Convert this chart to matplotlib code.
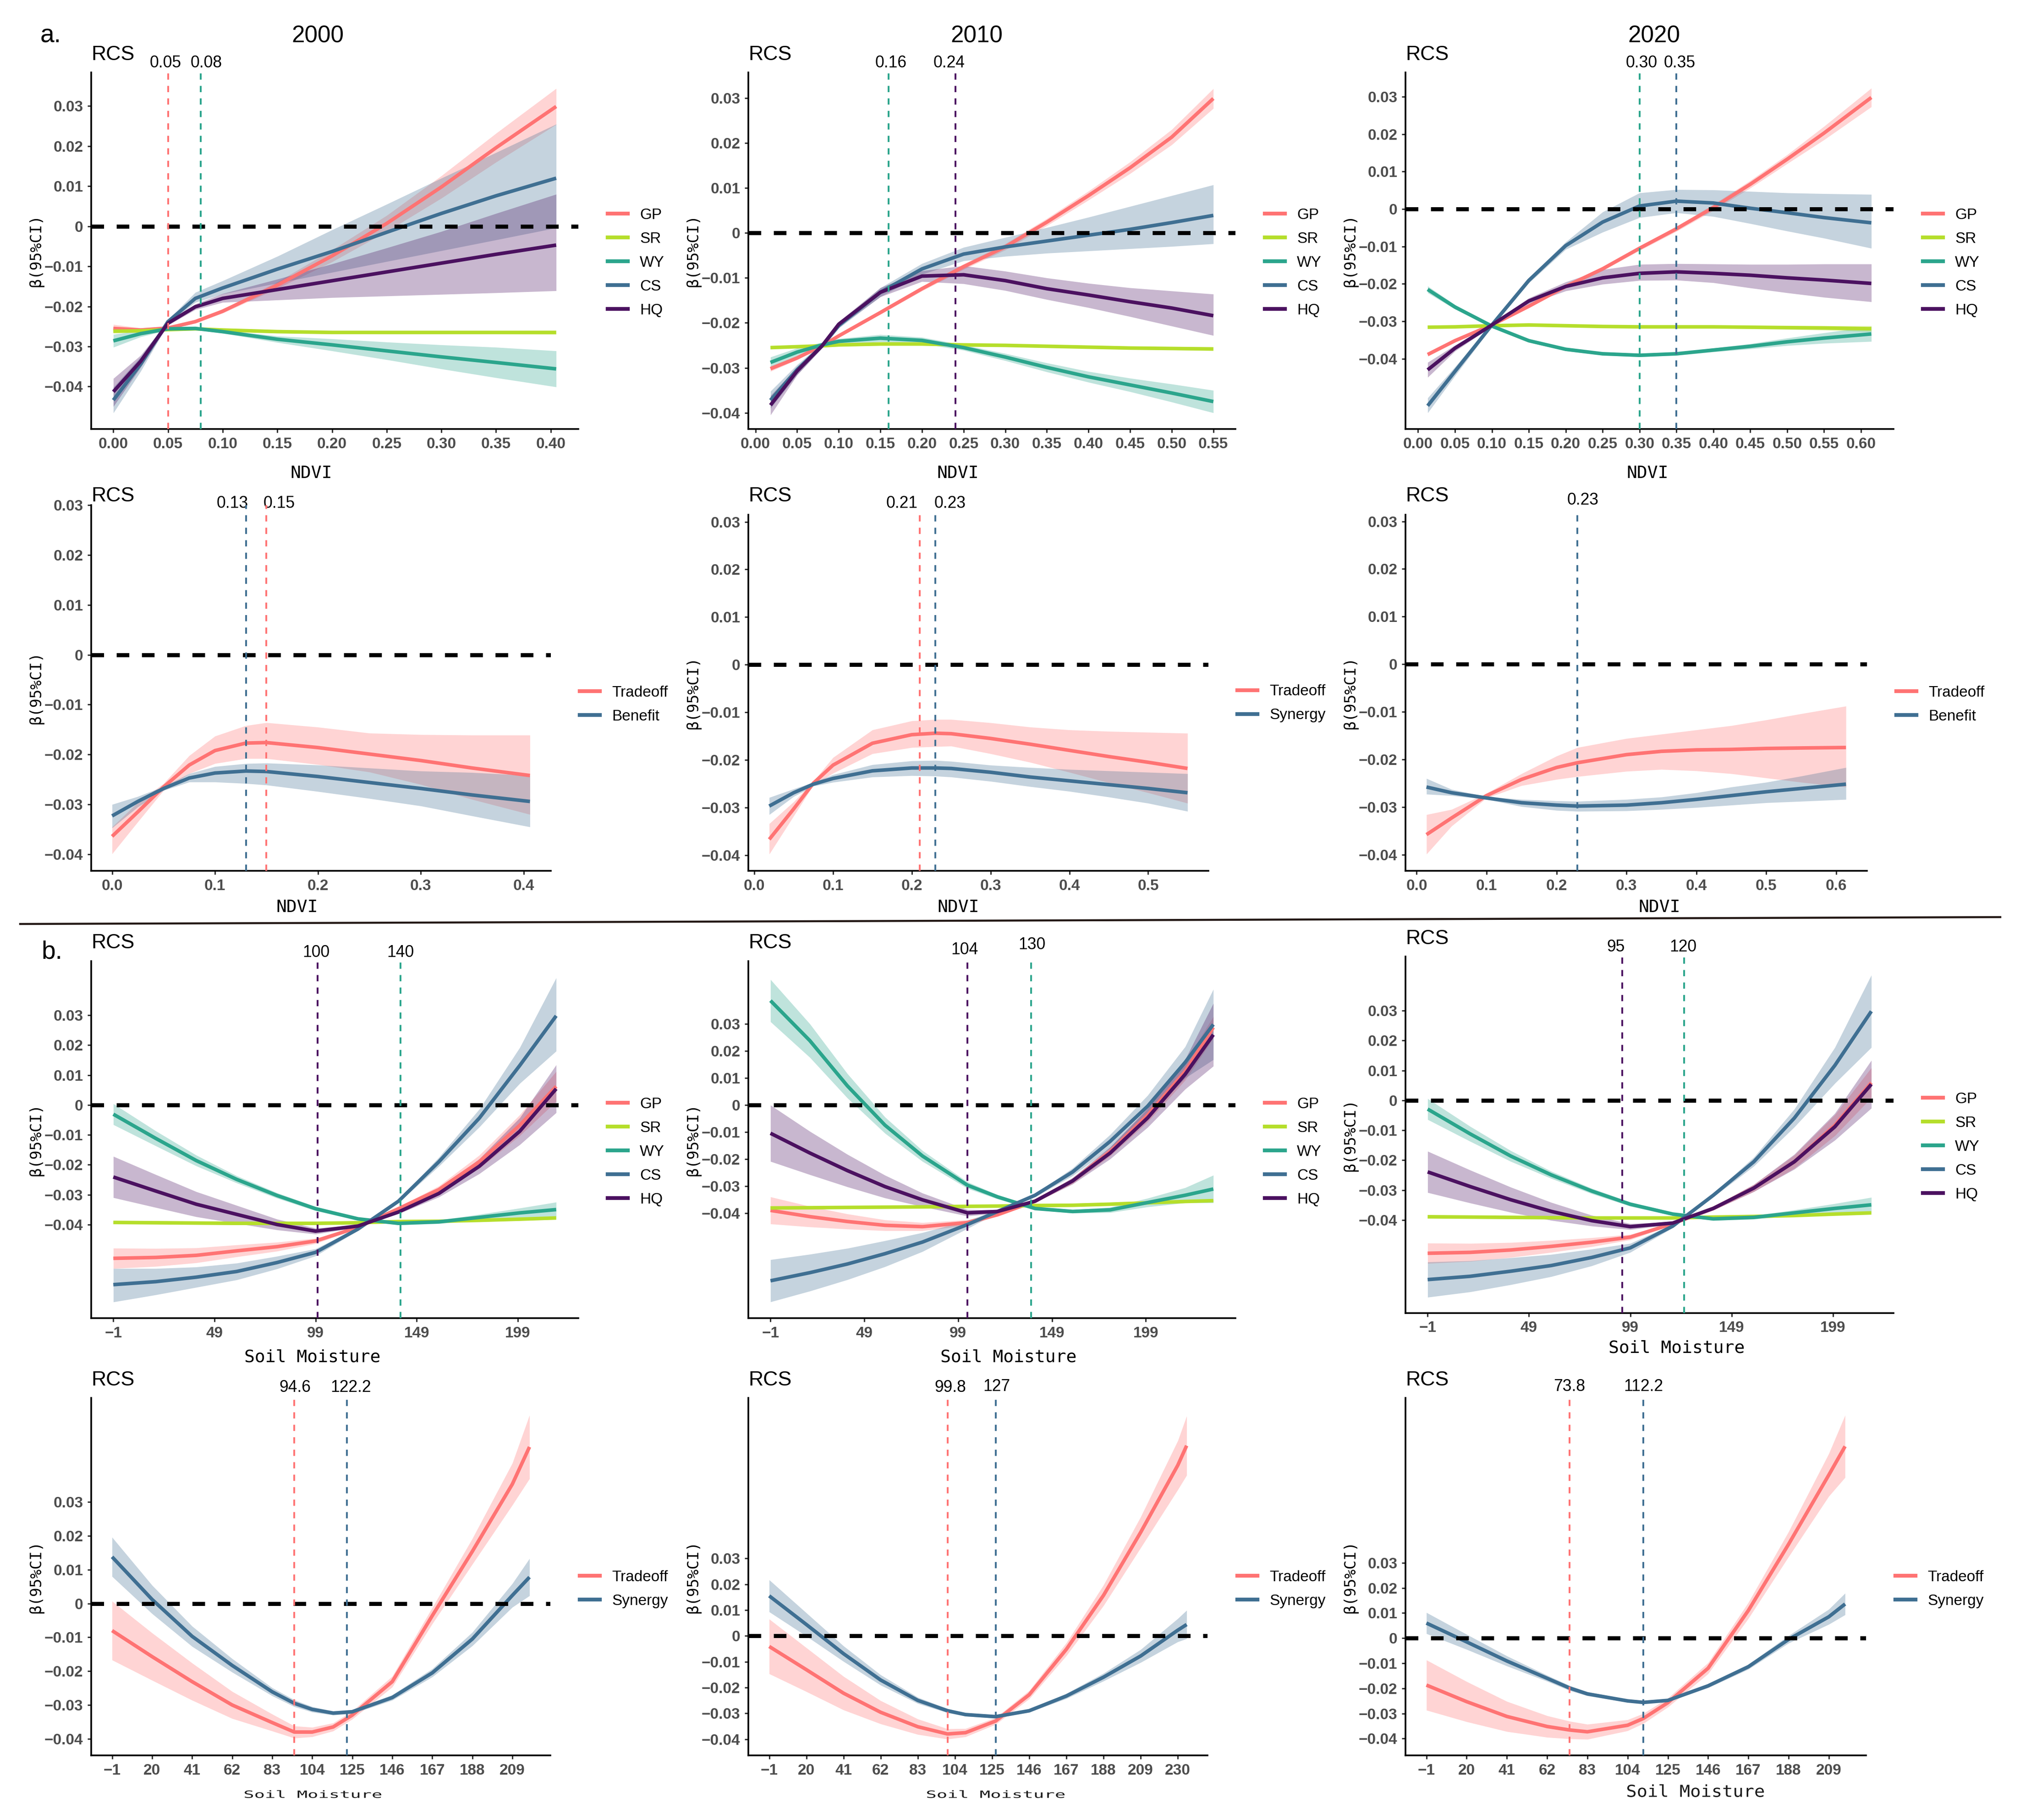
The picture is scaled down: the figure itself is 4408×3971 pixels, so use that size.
import matplotlib
matplotlib.use('Agg')
import matplotlib.pyplot as plt
from matplotlib.lines import Line2D
from matplotlib.font_manager import FontProperties
from matplotlib.textpath import TextPath
from matplotlib.patches import PathPatch
from matplotlib.transforms import Affine2D, blended_transform_factory

# ---------------- data ----------------
# NDVI, 2000
ndvi00_x = [0.0, 0.025, 0.05, 0.075, 0.1, 0.15, 0.2, 0.25, 0.3, 0.35, 0.405]
ndvi00_gp = [-0.0255, -0.0259, -0.0254, -0.0238, -0.0212, -0.0147, -0.0074, 0.0007, 0.0098, 0.0196, 0.0299]
ndvi00_gp_lo = [-0.0265, -0.0264, -0.0257, -0.0242, -0.0217, -0.0155, -0.0089, -0.0013, 0.0070, 0.0160, 0.0254]
ndvi00_gp_hi = [-0.0245, -0.0254, -0.0251, -0.0234, -0.0207, -0.0139, -0.0059, 0.0027, 0.0126, 0.0232, 0.0344]
ndvi00_sr = [-0.0262, -0.0261, -0.0258, -0.0256, -0.0259, -0.0263, -0.0265, -0.0265, -0.0265, -0.0265, -0.0265]
ndvi00_sr_lo = [-0.0267, -0.0264, -0.0260, -0.0258, -0.0261, -0.0266, -0.0268, -0.0269, -0.0269, -0.0269, -0.0270]
ndvi00_sr_hi = [-0.0257, -0.0258, -0.0256, -0.0254, -0.0257, -0.0260, -0.0262, -0.0261, -0.0261, -0.0261, -0.0260]
ndvi00_wy = [-0.0286, -0.0268, -0.0256, -0.0255, -0.0263, -0.0282, -0.0296, -0.0311, -0.0326, -0.0340, -0.0356]
ndvi00_wy_lo = [-0.0302, -0.0276, -0.0259, -0.0258, -0.0267, -0.0290, -0.0311, -0.0333, -0.0356, -0.0378, -0.0401]
ndvi00_wy_hi = [-0.0270, -0.0260, -0.0253, -0.0252, -0.0259, -0.0274, -0.0281, -0.0289, -0.0296, -0.0302, -0.0311]
ndvi00_cs = [-0.0434, -0.0344, -0.0238, -0.0180, -0.0154, -0.0107, -0.0063, -0.0015, 0.0032, 0.0076, 0.0120]
ndvi00_cs_lo = [-0.0466, -0.0362, -0.0243, -0.0190, -0.0169, -0.0142, -0.0115, -0.0088, -0.0061, -0.0034, -0.0004]
ndvi00_cs_hi = [-0.0402, -0.0326, -0.0233, -0.0165, -0.0136, -0.0075, -0.0009, 0.0055, 0.0120, 0.0184, 0.0255]
ndvi00_hq = [-0.0413, -0.0337, -0.0242, -0.0201, -0.0180, -0.0158, -0.0136, -0.0114, -0.0092, -0.0070, -0.0047]
ndvi00_hq_lo = [-0.0450, -0.0352, -0.0247, -0.0208, -0.0190, -0.0184, -0.0178, -0.0174, -0.0170, -0.0166, -0.0161]
ndvi00_hq_hi = [-0.0380, -0.0322, -0.0237, -0.0194, -0.0168, -0.0132, -0.0094, -0.0054, -0.0013, 0.0032, 0.0080]

# NDVI, 2010
ndvi10_x = [0.018, 0.05, 0.08, 0.1, 0.15, 0.2, 0.25, 0.3, 0.35, 0.4, 0.45, 0.5, 0.55]
ndvi10_gp = [-0.0302, -0.0278, -0.0251, -0.0229, -0.0177, -0.0124, -0.0075, -0.0031, 0.0024, 0.0083, 0.0145, 0.0213, 0.0299]
ndvi10_gp_lo = [-0.0308, -0.0282, -0.0253, -0.0232, -0.0181, -0.0129, -0.0081, -0.0038, 0.0016, 0.0073, 0.0132, 0.0196, 0.0277]
ndvi10_gp_hi = [-0.0296, -0.0274, -0.0249, -0.0226, -0.0173, -0.0119, -0.0069, -0.0024, 0.0032, 0.0093, 0.0158, 0.0230, 0.0321]
ndvi10_sr = [-0.0255, -0.0253, -0.0251, -0.0249, -0.0247, -0.0247, -0.0249, -0.0250, -0.0252, -0.0254, -0.0256, -0.0257, -0.0258]
ndvi10_sr_lo = [-0.0258, -0.0256, -0.0254, -0.0252, -0.0250, -0.0250, -0.0252, -0.0253, -0.0255, -0.0257, -0.0259, -0.0260, -0.0262]
ndvi10_sr_hi = [-0.0252, -0.0250, -0.0248, -0.0246, -0.0244, -0.0244, -0.0246, -0.0247, -0.0249, -0.0251, -0.0253, -0.0254, -0.0254]
ndvi10_wy = [-0.0288, -0.0265, -0.0249, -0.0241, -0.0234, -0.0239, -0.0255, -0.0276, -0.0299, -0.0320, -0.0338, -0.0356, -0.0375]
ndvi10_wy_lo = [-0.0300, -0.0274, -0.0255, -0.0247, -0.0242, -0.0246, -0.0261, -0.0284, -0.0309, -0.0332, -0.0353, -0.0376, -0.0400]
ndvi10_wy_hi = [-0.0276, -0.0256, -0.0243, -0.0235, -0.0226, -0.0232, -0.0249, -0.0268, -0.0289, -0.0308, -0.0323, -0.0336, -0.0350]
ndvi10_cs = [-0.0372, -0.0304, -0.0251, -0.0206, -0.0132, -0.0080, -0.0047, -0.0031, -0.0018, -0.0005, 0.0008, 0.0023, 0.0039]
ndvi10_cs_lo = [-0.0390, -0.0315, -0.0256, -0.0212, -0.0142, -0.0092, -0.0062, -0.0052, -0.0045, -0.0040, -0.0035, -0.0030, -0.0024]
ndvi10_cs_hi = [-0.0352, -0.0293, -0.0246, -0.0200, -0.0122, -0.0068, -0.0032, -0.0010, 0.0012, 0.0035, 0.0059, 0.0083, 0.0107]
ndvi10_hq = [-0.0383, -0.0307, -0.0251, -0.0203, -0.0132, -0.0096, -0.0093, -0.0106, -0.0124, -0.0138, -0.0153, -0.0167, -0.0184]
ndvi10_hq_lo = [-0.0405, -0.0316, -0.0256, -0.0209, -0.0142, -0.0108, -0.0113, -0.0128, -0.0148, -0.0166, -0.0186, -0.0207, -0.0228]
ndvi10_hq_hi = [-0.0362, -0.0298, -0.0246, -0.0197, -0.0122, -0.0084, -0.0073, -0.0085, -0.0100, -0.0112, -0.0122, -0.0129, -0.0136]

# NDVI, 2020
ndvi20_x = [0.013, 0.05, 0.1, 0.15, 0.2, 0.25, 0.3, 0.35, 0.4, 0.45, 0.5, 0.55, 0.614]
ndvi20_gp = [-0.0389, -0.0352, -0.0310, -0.0260, -0.0207, -0.0160, -0.0105, -0.0053, 0.0004, 0.0066, 0.0133, 0.0203, 0.0298]
ndvi20_gp_lo = [-0.0394, -0.0356, -0.0313, -0.0264, -0.0211, -0.0165, -0.0111, -0.0060, -0.0004, 0.0056, 0.0121, 0.0185, 0.0273]
ndvi20_gp_hi = [-0.0384, -0.0348, -0.0307, -0.0256, -0.0203, -0.0155, -0.0099, -0.0046, 0.0012, 0.0076, 0.0145, 0.0221, 0.0323]
ndvi20_sr = [-0.0316, -0.0315, -0.0312, -0.0310, -0.0312, -0.0314, -0.0315, -0.0315, -0.0315, -0.0316, -0.0317, -0.0318, -0.0320]
ndvi20_sr_lo = [-0.0319, -0.0318, -0.0315, -0.0313, -0.0315, -0.0317, -0.0318, -0.0318, -0.0318, -0.0320, -0.0322, -0.0324, -0.0328]
ndvi20_sr_hi = [-0.0313, -0.0312, -0.0309, -0.0307, -0.0309, -0.0311, -0.0312, -0.0312, -0.0312, -0.0312, -0.0312, -0.0312, -0.0312]
ndvi20_wy = [-0.0215, -0.0262, -0.0313, -0.0352, -0.0375, -0.0387, -0.0391, -0.0387, -0.0377, -0.0367, -0.0355, -0.0345, -0.0334]
ndvi20_wy_lo = [-0.0224, -0.0268, -0.0316, -0.0356, -0.0379, -0.0391, -0.0395, -0.0391, -0.0382, -0.0374, -0.0365, -0.0359, -0.0354]
ndvi20_wy_hi = [-0.0206, -0.0256, -0.0310, -0.0348, -0.0371, -0.0383, -0.0387, -0.0383, -0.0372, -0.0360, -0.0345, -0.0331, -0.0314]
ndvi20_cs = [-0.0526, -0.0434, -0.0310, -0.0191, -0.0098, -0.0035, 0.0008, 0.0021, 0.0016, 0.0002, -0.0010, -0.0023, -0.0037]
ndvi20_cs_lo = [-0.0545, -0.0446, -0.0315, -0.0198, -0.0108, -0.0062, -0.0023, -0.0010, -0.0020, -0.0039, -0.0059, -0.0078, -0.0105]
ndvi20_cs_hi = [-0.0505, -0.0422, -0.0305, -0.0184, -0.0088, -0.0008, 0.0043, 0.0052, 0.0051, 0.0047, 0.0043, 0.0041, 0.0039]
ndvi20_hq = [-0.0430, -0.0372, -0.0310, -0.0246, -0.0207, -0.0184, -0.0172, -0.0168, -0.0172, -0.0177, -0.0184, -0.0190, -0.0199]
ndvi20_hq_lo = [-0.0450, -0.0380, -0.0314, -0.0254, -0.0219, -0.0201, -0.0191, -0.0190, -0.0197, -0.0211, -0.0224, -0.0236, -0.0248]
ndvi20_hq_hi = [-0.0410, -0.0364, -0.0306, -0.0238, -0.0195, -0.0162, -0.0148, -0.0146, -0.0147, -0.0148, -0.0148, -0.0147, -0.0147]

# tradeoff / benefit vs NDVI
tb00_x = [0.0, 0.025, 0.05, 0.075, 0.1, 0.13, 0.15, 0.2, 0.25, 0.3, 0.35, 0.406]
tb00_trade = [-0.0364, -0.0315, -0.0265, -0.0221, -0.0192, -0.0177, -0.0176, -0.0186, -0.0199, -0.0212, -0.0227, -0.0242]
tb00_trade_lo = [-0.0399, -0.0335, -0.0272, -0.0238, -0.0218, -0.0208, -0.0208, -0.0220, -0.0235, -0.0260, -0.0290, -0.0320]
tb00_trade_hi = [-0.0345, -0.0296, -0.0258, -0.0202, -0.0163, -0.0142, -0.0136, -0.0145, -0.0157, -0.0160, -0.0161, -0.0161]
tb00_ben = [-0.0323, -0.0294, -0.0268, -0.0247, -0.0237, -0.0233, -0.0234, -0.0244, -0.0256, -0.0268, -0.0281, -0.0294]
tb00_ben_lo = [-0.0347, -0.0305, -0.0272, -0.0255, -0.0255, -0.0258, -0.0261, -0.0274, -0.0288, -0.0303, -0.0323, -0.0345]
tb00_ben_hi = [-0.0300, -0.0284, -0.0264, -0.0238, -0.0224, -0.0218, -0.0217, -0.0221, -0.0227, -0.0233, -0.0236, -0.0242]

tb10_x = [0.019, 0.05, 0.075, 0.1, 0.15, 0.2, 0.23, 0.25, 0.3, 0.35, 0.4, 0.45, 0.5, 0.55]
tb10_trade = [-0.0367, -0.0303, -0.0249, -0.0211, -0.0165, -0.0147, -0.0144, -0.0145, -0.0155, -0.0167, -0.0180, -0.0193, -0.0205, -0.0218]
tb10_trade_lo = [-0.0398, -0.0318, -0.0253, -0.0228, -0.0187, -0.0174, -0.0172, -0.0171, -0.0187, -0.0205, -0.0226, -0.0248, -0.0269, -0.0291]
tb10_trade_hi = [-0.0334, -0.0288, -0.0245, -0.0195, -0.0137, -0.0118, -0.0115, -0.0115, -0.0122, -0.0131, -0.0137, -0.0140, -0.0142, -0.0144]
tb10_syn = [-0.0297, -0.0269, -0.0251, -0.0239, -0.0223, -0.0217, -0.0217, -0.0218, -0.0226, -0.0236, -0.0244, -0.0252, -0.0260, -0.0269]
tb10_syn_lo = [-0.0315, -0.0277, -0.0255, -0.0247, -0.0236, -0.0233, -0.0234, -0.0236, -0.0245, -0.0256, -0.0266, -0.0278, -0.0291, -0.0308]
tb10_syn_hi = [-0.0279, -0.0261, -0.0247, -0.0231, -0.0210, -0.0202, -0.0201, -0.0203, -0.0211, -0.0216, -0.0220, -0.0223, -0.0226, -0.0229]

tb20_x = [0.014, 0.05, 0.1, 0.15, 0.2, 0.23, 0.3, 0.35, 0.4, 0.45, 0.5, 0.55, 0.614]
tb20_trade = [-0.0358, -0.0323, -0.0276, -0.0242, -0.0217, -0.0207, -0.0190, -0.0183, -0.0180, -0.0179, -0.0177, -0.0176, -0.0175]
tb20_trade_lo = [-0.0399, -0.0340, -0.0281, -0.0255, -0.0242, -0.0236, -0.0225, -0.0221, -0.0224, -0.0230, -0.0239, -0.0248, -0.0258]
tb20_trade_hi = [-0.0316, -0.0305, -0.0271, -0.0230, -0.0193, -0.0175, -0.0156, -0.0147, -0.0138, -0.0129, -0.0117, -0.0104, -0.0088]
tb20_ben = [-0.0258, -0.0270, -0.0281, -0.0291, -0.0296, -0.0298, -0.0296, -0.0291, -0.0284, -0.0276, -0.0268, -0.0261, -0.0252]
tb20_ben_lo = [-0.0273, -0.0276, -0.0284, -0.0299, -0.0307, -0.0309, -0.0308, -0.0305, -0.0301, -0.0296, -0.0291, -0.0288, -0.0284]
tb20_ben_hi = [-0.0240, -0.0263, -0.0278, -0.0284, -0.0287, -0.0288, -0.0284, -0.0279, -0.0270, -0.0258, -0.0248, -0.0235, -0.0217]

# soil moisture, 2000
sm00_x = [-1, 20, 40, 60, 80, 99, 120, 140, 160, 180, 200, 218]
sm00_gp = [-0.0513, -0.0510, -0.0503, -0.0488, -0.0474, -0.0455, -0.0409, -0.0347, -0.0283, -0.0190, -0.0068, 0.0062]
sm00_gp_lo = [-0.0547, -0.0540, -0.0528, -0.0508, -0.0489, -0.0464, -0.0413, -0.0353, -0.0295, -0.0212, -0.0103, 0.0012]
sm00_gp_hi = [-0.0479, -0.0480, -0.0478, -0.0468, -0.0459, -0.0446, -0.0405, -0.0341, -0.0271, -0.0168, -0.0033, 0.0112]
sm00_sr = [-0.0393, -0.0394, -0.0395, -0.0396, -0.0396, -0.0396, -0.0394, -0.0390, -0.0389, -0.0386, -0.0382, -0.0378]
sm00_sr_lo = [-0.0397, -0.0398, -0.0399, -0.0400, -0.0400, -0.0400, -0.0398, -0.0394, -0.0393, -0.0390, -0.0386, -0.0382]
sm00_sr_hi = [-0.0389, -0.0390, -0.0391, -0.0392, -0.0392, -0.0392, -0.0390, -0.0386, -0.0385, -0.0382, -0.0378, -0.0374]
sm00_wy = [-0.0031, -0.0112, -0.0186, -0.0249, -0.0303, -0.0347, -0.0381, -0.0396, -0.0391, -0.0376, -0.0361, -0.0350]
sm00_wy_lo = [-0.0066, -0.0137, -0.0204, -0.0261, -0.0312, -0.0354, -0.0386, -0.0401, -0.0397, -0.0386, -0.0377, -0.0375]
sm00_wy_hi = [0.0004, -0.0087, -0.0168, -0.0237, -0.0294, -0.0340, -0.0376, -0.0391, -0.0385, -0.0366, -0.0345, -0.0325]
sm00_cs = [-0.0601, -0.0591, -0.0576, -0.0557, -0.0527, -0.0493, -0.0415, -0.0322, -0.0190, -0.0044, 0.0132, 0.0298]
sm00_cs_lo = [-0.0659, -0.0635, -0.0610, -0.0585, -0.0548, -0.0505, -0.0420, -0.0327, -0.0205, -0.0074, 0.0072, 0.0180]
sm00_cs_hi = [-0.0547, -0.0547, -0.0542, -0.0529, -0.0506, -0.0481, -0.0410, -0.0317, -0.0175, -0.0014, 0.0192, 0.0425]
sm00_hq = [-0.0241, -0.0288, -0.0332, -0.0366, -0.0400, -0.0422, -0.0405, -0.0358, -0.0296, -0.0205, -0.0088, 0.0054]
sm00_hq_lo = [-0.0310, -0.0343, -0.0374, -0.0396, -0.0418, -0.0432, -0.0409, -0.0364, -0.0308, -0.0230, -0.0133, -0.0026]
sm00_hq_hi = [-0.0172, -0.0233, -0.0290, -0.0336, -0.0382, -0.0412, -0.0401, -0.0352, -0.0284, -0.0180, -0.0043, 0.0134]

# soil moisture, 2010
sm10_x = [-1, 20, 40, 60, 80, 104, 120, 140, 160, 180, 200, 220, 235]
sm10_gp = [-0.0389, -0.0412, -0.0430, -0.0444, -0.0449, -0.0434, -0.0405, -0.0355, -0.0280, -0.0172, -0.0037, 0.0125, 0.0287]
sm10_gp_lo = [-0.0439, -0.0450, -0.0458, -0.0464, -0.0464, -0.0444, -0.0411, -0.0360, -0.0290, -0.0188, -0.0062, 0.0092, 0.0247]
sm10_gp_hi = [-0.0339, -0.0374, -0.0402, -0.0424, -0.0434, -0.0424, -0.0399, -0.0350, -0.0270, -0.0156, -0.0012, 0.0158, 0.0327]
sm10_sr = [-0.0380, -0.0379, -0.0378, -0.0377, -0.0376, -0.0374, -0.0373, -0.0371, -0.0370, -0.0366, -0.0361, -0.0356, -0.0353]
sm10_sr_lo = [-0.0384, -0.0383, -0.0382, -0.0381, -0.0380, -0.0378, -0.0377, -0.0375, -0.0374, -0.0370, -0.0365, -0.0360, -0.0357]
sm10_sr_hi = [-0.0376, -0.0375, -0.0374, -0.0373, -0.0372, -0.0370, -0.0369, -0.0367, -0.0366, -0.0362, -0.0357, -0.0352, -0.0349]
sm10_wy = [0.0386, 0.0238, 0.0071, -0.0074, -0.0188, -0.0296, -0.0339, -0.0382, -0.0393, -0.0387, -0.0360, -0.0333, -0.0310]
sm10_wy_lo = [0.0308, 0.0176, 0.0026, -0.0104, -0.0208, -0.0308, -0.0347, -0.0387, -0.0399, -0.0397, -0.0376, -0.0361, -0.0361]
sm10_wy_hi = [0.0464, 0.0300, 0.0116, -0.0044, -0.0168, -0.0284, -0.0331, -0.0377, -0.0387, -0.0377, -0.0344, -0.0305, -0.0259]
sm10_cs = [-0.0649, -0.0619, -0.0587, -0.0549, -0.0506, -0.0441, -0.0393, -0.0333, -0.0247, -0.0134, -0.0004, 0.0158, 0.0298]
sm10_cs_lo = [-0.0727, -0.0687, -0.0645, -0.0597, -0.0541, -0.0456, -0.0398, -0.0339, -0.0261, -0.0159, -0.0044, 0.0100, 0.0168]
sm10_cs_hi = [-0.0571, -0.0551, -0.0529, -0.0501, -0.0471, -0.0426, -0.0388, -0.0327, -0.0233, -0.0109, 0.0036, 0.0216, 0.0428]
sm10_hq = [-0.0104, -0.0177, -0.0242, -0.0301, -0.0350, -0.0398, -0.0393, -0.0355, -0.0280, -0.0177, -0.0047, 0.0114, 0.0260]
sm10_hq_lo = [-0.0208, -0.0257, -0.0302, -0.0343, -0.0375, -0.0410, -0.0399, -0.0360, -0.0292, -0.0199, -0.0082, 0.0059, 0.0144]
sm10_hq_hi = [0.0000, -0.0097, -0.0182, -0.0259, -0.0325, -0.0386, -0.0387, -0.0350, -0.0268, -0.0155, -0.0012, 0.0169, 0.0376]

# soil moisture, 2020
sm20_x = [-1, 20, 40, 60, 80, 99, 120, 140, 160, 180, 200, 218]
sm20_gp = [-0.0511, -0.0508, -0.0500, -0.0488, -0.0474, -0.0457, -0.0412, -0.0361, -0.0293, -0.0205, -0.0083, 0.0059]
sm20_gp_lo = [-0.0545, -0.0538, -0.0525, -0.0508, -0.0489, -0.0466, -0.0416, -0.0367, -0.0305, -0.0227, -0.0118, 0.0009]
sm20_gp_hi = [-0.0477, -0.0478, -0.0475, -0.0468, -0.0459, -0.0448, -0.0408, -0.0355, -0.0281, -0.0183, -0.0048, 0.0109]
sm20_sr = [-0.0389, -0.0390, -0.0391, -0.0392, -0.0393, -0.0393, -0.0393, -0.0390, -0.0388, -0.0385, -0.0380, -0.0376]
sm20_sr_lo = [-0.0393, -0.0394, -0.0395, -0.0396, -0.0397, -0.0397, -0.0397, -0.0394, -0.0392, -0.0389, -0.0384, -0.0380]
sm20_sr_hi = [-0.0385, -0.0386, -0.0387, -0.0388, -0.0389, -0.0389, -0.0389, -0.0386, -0.0384, -0.0381, -0.0376, -0.0372]
sm20_wy = [-0.0029, -0.0112, -0.0186, -0.0249, -0.0303, -0.0347, -0.0380, -0.0396, -0.0391, -0.0376, -0.0361, -0.0349]
sm20_wy_lo = [-0.0064, -0.0137, -0.0204, -0.0261, -0.0312, -0.0354, -0.0385, -0.0401, -0.0397, -0.0386, -0.0377, -0.0374]
sm20_wy_hi = [0.0006, -0.0087, -0.0168, -0.0237, -0.0294, -0.0340, -0.0375, -0.0391, -0.0385, -0.0366, -0.0345, -0.0324]
sm20_cs = [-0.0599, -0.0588, -0.0571, -0.0552, -0.0525, -0.0493, -0.0420, -0.0317, -0.0205, -0.0059, 0.0117, 0.0298]
sm20_cs_lo = [-0.0658, -0.0640, -0.0616, -0.0589, -0.0553, -0.0508, -0.0426, -0.0323, -0.0220, -0.0089, 0.0057, 0.0177]
sm20_cs_hi = [-0.0540, -0.0536, -0.0526, -0.0515, -0.0497, -0.0478, -0.0414, -0.0311, -0.0190, -0.0029, 0.0177, 0.0419]
sm20_hq = [-0.0239, -0.0288, -0.0332, -0.0371, -0.0402, -0.0422, -0.0410, -0.0361, -0.0293, -0.0205, -0.0088, 0.0054]
sm20_hq_lo = [-0.0308, -0.0343, -0.0374, -0.0401, -0.0420, -0.0432, -0.0414, -0.0367, -0.0305, -0.0230, -0.0133, -0.0026]
sm20_hq_hi = [-0.0170, -0.0233, -0.0290, -0.0341, -0.0384, -0.0412, -0.0406, -0.0355, -0.0281, -0.0180, -0.0043, 0.0134]

# tradeoff / synergy vs soil moisture
ts00_x = [-1, 20, 41, 62, 83, 94.6, 104, 115, 125, 146, 167, 188, 209, 218]
ts00_trade = [-0.0080, -0.0157, -0.0231, -0.0300, -0.0352, -0.0380, -0.0380, -0.0365, -0.0330, -0.0231, -0.0036, 0.0154, 0.0353, 0.0463]
ts00_trade_lo = [-0.0167, -0.0227, -0.0286, -0.0340, -0.0377, -0.0398, -0.0394, -0.0377, -0.0342, -0.0247, -0.0060, 0.0116, 0.0291, 0.0369]
ts00_trade_hi = [0.0007, -0.0087, -0.0176, -0.0260, -0.0327, -0.0362, -0.0366, -0.0353, -0.0318, -0.0215, -0.0012, 0.0192, 0.0415, 0.0557]
ts00_syn = [0.0138, 0.0012, -0.0097, -0.0183, -0.0261, -0.0295, -0.0313, -0.0324, -0.0320, -0.0278, -0.0205, -0.0105, 0.0024, 0.0078]
ts00_syn_lo = [0.0080, -0.0030, -0.0127, -0.0203, -0.0273, -0.0305, -0.0321, -0.0330, -0.0326, -0.0286, -0.0217, -0.0125, -0.0011, 0.0023]
ts00_syn_hi = [0.0196, 0.0054, -0.0067, -0.0163, -0.0249, -0.0285, -0.0305, -0.0318, -0.0314, -0.0270, -0.0193, -0.0085, 0.0059, 0.0133]

ts10_x = [-1, 20, 41, 62, 83, 99.8, 110, 127, 146, 167, 188, 209, 230, 235]
ts10_trade = [-0.0041, -0.0131, -0.0222, -0.0296, -0.0352, -0.0380, -0.0375, -0.0330, -0.0228, -0.0052, 0.0157, 0.0401, 0.0661, 0.0737]
ts10_trade_lo = [-0.0147, -0.0216, -0.0287, -0.0341, -0.0382, -0.0400, -0.0391, -0.0343, -0.0244, -0.0077, 0.0117, 0.0341, 0.0566, 0.0622]
ts10_trade_hi = [0.0065, -0.0046, -0.0157, -0.0251, -0.0322, -0.0360, -0.0359, -0.0317, -0.0212, -0.0027, 0.0197, 0.0461, 0.0756, 0.0852]
ts10_syn = [0.0155, 0.0044, -0.0069, -0.0171, -0.0250, -0.0290, -0.0305, -0.0313, -0.0290, -0.0233, -0.0160, -0.0078, 0.0022, 0.0044]
ts10_syn_lo = [0.0093, -0.0001, -0.0099, -0.0191, -0.0262, -0.0298, -0.0311, -0.0319, -0.0296, -0.0243, -0.0175, -0.0103, -0.0023, -0.0011]
ts10_syn_hi = [0.0217, 0.0089, -0.0039, -0.0151, -0.0238, -0.0282, -0.0299, -0.0307, -0.0284, -0.0223, -0.0145, -0.0053, 0.0067, 0.0099]

ts20_x = [-1, 20, 41, 62, 73.8, 83, 104, 112.2, 125, 146, 167, 188, 209, 217.5]
ts20_trade = [-0.0187, -0.0253, -0.0312, -0.0352, -0.0366, -0.0373, -0.0347, -0.0320, -0.0257, -0.0120, 0.0110, 0.0374, 0.0650, 0.0764]
ts20_trade_lo = [-0.0287, -0.0333, -0.0372, -0.0395, -0.0401, -0.0403, -0.0369, -0.0340, -0.0275, -0.0142, 0.0078, 0.0324, 0.0565, 0.0640]
ts20_trade_hi = [-0.0087, -0.0173, -0.0252, -0.0309, -0.0331, -0.0343, -0.0325, -0.0300, -0.0239, -0.0098, 0.0142, 0.0424, 0.0735, 0.0888]
ts20_syn = [0.0060, -0.0015, -0.0091, -0.0160, -0.0199, -0.0222, -0.0250, -0.0256, -0.0248, -0.0190, -0.0114, -0.0005, 0.0085, 0.0136]
ts20_syn_lo = [0.0018, -0.0045, -0.0111, -0.0172, -0.0209, -0.0230, -0.0255, -0.0261, -0.0253, -0.0198, -0.0124, -0.0020, 0.0055, 0.0093]
ts20_syn_hi = [0.0102, 0.0015, -0.0071, -0.0148, -0.0189, -0.0214, -0.0245, -0.0251, -0.0243, -0.0182, -0.0104, 0.0010, 0.0115, 0.0179]

# threshold lines: (position, label, colour key)
thr_ndvi00 = [(0.05, "0.05", "GP"), (0.08, "0.08", "WY")]
thr_ndvi10 = [(0.16, "0.16", "WY"), (0.24, "0.24", "HQ")]
thr_ndvi20 = [(0.30, "0.30", "WY"), (0.35, "0.35", "CS")]
thr_tb00 = [(0.13, "0.13", "CS"), (0.15, "0.15", "GP")]
thr_tb10 = [(0.21, "0.21", "GP"), (0.23, "0.23", "CS")]
thr_tb20 = [(0.23, "0.23", "CS")]
thr_sm00 = [(100, "100", "HQ"), (141, "140", "WY")]
thr_sm10 = [(104, "104", "HQ"), (138, "130", "WY")]
thr_sm20 = [(95, "95", "HQ"), (125.5, "120", "WY")]
thr_ts00 = [(94.6, "94.6", "GP"), (122.2, "122.2", "CS")]
thr_ts10 = [(99.8, "99.8", "GP"), (127, "127", "CS")]
thr_ts20 = [(73.8, "73.8", "GP"), (112.2, "112.2", "CS")]

years = ["2000", "2010", "2020"]
y_ticks = [-0.04, -0.03, -0.02, -0.01, 0, 0.01, 0.02, 0.03]

COLORS = {"GP": "#FF7373", "SR": "#B5DE2B", "WY": "#2BA58C", "CS": "#3F6F92", "HQ": "#4B1160"}

# ---------------- figure ----------------
W, H, DPI = 4408, 3971, 200
NARROW = ['Liberation Sans Narrow', 'Liberation Sans', 'DejaVu Sans']
PLAIN = ['Liberation Sans', 'DejaVu Sans']
MONO = ['DejaVu Sans Mono']

fig = plt.figure(figsize=(W / DPI, H / DPI), dpi=DPI)
fig.patch.set_facecolor('white')


def fy(py):
    return 1 - py / H


def fmt(v, nd, zero_plain=False):
    if v == 0 and zero_plain:
        return "0"
    s = f"{v:.{nd}f}" if nd else f"{v:g}"
    return s.replace("-", "\u2212")


def squashed(text, box):
    x0, y0, x1, y1 = box
    tp = TextPath((0, 0), text, size=50, prop=FontProperties(family=MONO))
    ext = tp.get_extents()
    tr = (Affine2D().translate(-ext.x0, -ext.y0)
          .scale((x1 - x0) / ext.width, (y1 - y0) / ext.height)
          .translate(x0, H - y1))
    fig.add_artist(PathPatch(tp, transform=tr, facecolor='#1a1a1a', lw=0))


def draw_panel(box, ylim, x, series, thr, xticks, nd, thr_pos, thr_y, rcs_y,
               leg, ylab_x, xlabel=None, xlabel_pos=None, squash=None):
    l, t, r, b = box
    ax = fig.add_axes([l / W, 1 - b / H, (r - l) / W, (b - t) / H])
    pad = 0.05 * (x[-1] - x[0])
    ax.set_xlim(x[0] - pad, x[-1] + pad)
    ax.set_ylim(*ylim)
    names = []
    for name, key, y, lo, hi in series:
        c = COLORS[key]
        ax.fill_between(x, lo, hi, color=c, alpha=0.3, lw=0)
        ax.plot(x, y, color=c, lw=2.8, solid_capstyle='butt')
        names.append((name, c))
    ax.axhline(0, color='black', lw=3.2, dashes=(3.1, 3.1), zorder=6)
    tr = blended_transform_factory(ax.transData, ax.transAxes)
    for i, (v, lab, key) in enumerate(thr):
        ax.axvline(v, color=COLORS[key], lw=1.4, dashes=(3.5, 3.5), zorder=6)
        yy = thr_y[i] if isinstance(thr_y, list) else thr_y
        ax.text(thr_pos[i], yy, lab, transform=tr, ha='center', va='baseline',
                fontsize=12.8, family=PLAIN, clip_on=False)
    ax.text(0, rcs_y, "RCS", transform=ax.transAxes, ha='left', va='baseline',
            fontsize=16.1, family=PLAIN)

    for s in ['top', 'right']:
        ax.spines[s].set_visible(False)
    for s in ['left', 'bottom']:
        ax.spines[s].set_linewidth(1.3)
    ax.set_xticks(xticks)
    ax.set_xticklabels([fmt(v, nd) for v in xticks])
    ax.set_yticks(y_ticks)
    ax.set_yticklabels([fmt(v, 2, zero_plain=True) for v in y_ticks])
    ax.tick_params(length=2.9, width=1.1, color='#333333', pad=3.4,
                   labelcolor='#4D4D4D')
    for lab in ax.get_xticklabels() + ax.get_yticklabels():
        lab.set_fontfamily(NARROW)
        lab.set_fontweight('bold')
        lab.set_fontsize(12)

    handles = [Line2D([], [], color=c, lw=3.0) for _, c in names]
    ax.legend(handles, [n for n, _ in names], loc='center left',
              bbox_to_anchor=(leg[0] / W, fy(leg[1])), bbox_transform=fig.transFigure,
              frameon=False, prop=FontProperties(family=NARROW, size=12),
              handlelength=1.32, handletextpad=0.78, labelspacing=0.63,
              borderpad=0, borderaxespad=0)

    fig.text(ylab_x / W, 1 - (t + b) / 2 / H, "\u03b2(95%CI)", rotation=90,
             ha='center', va='center', family=MONO, fontsize=11.9)
    if xlabel_pos is not None:
        fig.text(xlabel_pos[0] / W, fy(xlabel_pos[1]), xlabel, ha='center',
                 va='baseline', family=MONO, fontsize=13.7)
    if squash is not None:
        squashed(xlabel, squash)
    return ax


def five(prefix):
    g = globals()
    out = []
    for key in ["GP", "SR", "WY", "CS", "HQ"]:
        k = prefix + "_" + key.lower()
        out.append((key, key, g[k], g[k + "_lo"], g[k + "_hi"]))
    return out


def two(prefix, second, skey):
    g = globals()
    return [("Tradeoff", "GP", g[prefix + "_trade"], g[prefix + "_trade_lo"], g[prefix + "_trade_hi"]),
            (second, "CS", g[prefix + "_" + skey], g[prefix + "_" + skey + "_lo"], g[prefix + "_" + skey + "_hi"])]


ndvi_t1 = [round(i * 0.05, 2) for i in range(9)]
ndvi_t2 = [round(i * 0.05, 2) for i in range(12)]
ndvi_t3 = [round(i * 0.05, 2) for i in range(13)]
sm_t = [-1, 49, 99, 149, 199]
ts_t = [-1, 20, 41, 62, 83, 104, 125, 146, 167, 188, 209]
ts_t2 = ts_t + [230]

# row 1: NDVI, five services
draw_panel((199, 158, 1262, 936), (-0.0506, 0.0384), ndvi00_x, five("ndvi00"), thr_ndvi00,
           ndvi_t1, 2, [0.0478, 0.0851], 1.0145, 1.0347, (1326, 573.5), 79, "NDVI", (679, 1043))
draw_panel((1633, 158, 2696, 936), (-0.0436, 0.0357), ndvi10_x, five("ndvi10"), thr_ndvi10,
           ndvi_t2, 2, [0.1629, 0.2325], 1.0145, 1.0347, (2760, 573.5), 1513, "NDVI", (2090, 1043))
draw_panel((3067, 158, 4132, 936), (-0.0588, 0.0365), ndvi20_x, five("ndvi20"), thr_ndvi20,
           ndvi_t3, 2, [0.3029, 0.354], 1.0145, 1.0347, (4196, 573.5), 2947, "NDVI", (3595, 1043))

# row 2: tradeoff / benefit vs NDVI
draw_panel((199, 1102, 1202, 1900), (-0.0433, 0.0299), tb00_x, two("tb00", "Benefit", "ben"), thr_tb00,
           [0, 0.1, 0.2, 0.3, 0.4], 1, [0.1171, 0.1624], 0.9925, 1.010, (1265, 1537.5), 79, "NDVI", (648, 1990))
draw_panel((1633, 1123, 2637, 1900), (-0.0433, 0.0315), tb10_x, two("tb10", "Synergy", "syn"), thr_tb10,
           [0, 0.1, 0.2, 0.3, 0.4, 0.5], 1, [0.1872, 0.2484], 1.0193, 1.0373, (2700, 1535), 1513, "NDVI", (2091, 1990))
draw_panel((3067, 1123, 4074, 1900), (-0.0434, 0.0314), tb20_x, two("tb20", "Benefit", "ben"), thr_tb20,
           [0, 0.1, 0.2, 0.3, 0.4, 0.5, 0.6], 1, [0.2379], 1.0283, 1.0373, (4138, 1537.5), 2947, "NDVI", (3621, 1990))

# row 3: soil moisture, five services
draw_panel((199, 2097, 1262, 2876), (-0.0713, 0.0481), sm00_x, five("sm00"), thr_sm00,
           sm_t, 0, [99.2, 141.1], 1.0116, 1.036, (1326, 2513.5), 79, "Soil Moisture", (682, 2972))
draw_panel((1633, 2097, 2696, 2876), (-0.0787, 0.0532), sm10_x, five("sm10"), thr_sm10,
           sm_t, 0, [102.4, 138.4], [1.0193, 1.034], 1.036, (2760, 2513.5), 1513, "Soil Moisture", (2201, 2972))
draw_panel((3067, 2087, 4132, 2865), (-0.0711, 0.0481), sm20_x, five("sm20"), thr_sm20,
           sm_t, 0, [91.9, 125.1], 1.0141, 1.0347, (4196, 2502.5), 2947, "Soil Moisture", (3659, 2951))

# row 4: tradeoff / synergy vs soil moisture
draw_panel((199, 3050, 1201, 3830), (-0.0449, 0.0608), ts00_x, two("ts00", "Synergy", "syn"), thr_ts00,
           ts_t, 0, [95.0, 124.2], 1.0167, 1.0346, (1265, 3467.5), 79, "Soil Moisture",
           squash=(534, 3906, 832, 3923))
draw_panel((1633, 3050, 2635, 3830), (-0.0463, 0.0922), ts10_x, two("ts10", "Synergy", "syn"), thr_ts10,
           ts_t2, 0, [101.5, 127.5], [1.0167, 1.0192], 1.0346, (2700, 3467.5), 1513, "Soil Moisture",
           squash=(2023, 3906, 2323, 3923))
draw_panel((3067, 3050, 4072, 3830), (-0.0467, 0.0957), ts20_x, two("ts20", "Synergy", "syn"), thr_ts20,
           ts_t, 0, [73.6, 112.2], 1.0192, 1.0346, (4136, 3467.5), 2947, "Soil Moisture",
           squash=(3551, 3893, 3849, 3921))

# headings
for cx, yr in zip([693, 2131, 3609], years):
    fig.text(cx / W, fy(92.5), yr, ha='center', va='baseline', fontsize=18.4, family=PLAIN)
fig.text(111 / W, fy(92.5), "a.", ha='center', va='baseline', fontsize=19.8, family=PLAIN)
fig.text(113 / W, fy(2092), "b.", ha='center', va='baseline', fontsize=19.8, family=PLAIN)

# separator between part a and part b
fig.add_artist(Line2D([44 / W, 4365 / W], [fy(2016), fy(2001)], transform=fig.transFigure,
                      color='#231815', lw=1.6))

fig.savefig("out.png", dpi=DPI, facecolor='white')
